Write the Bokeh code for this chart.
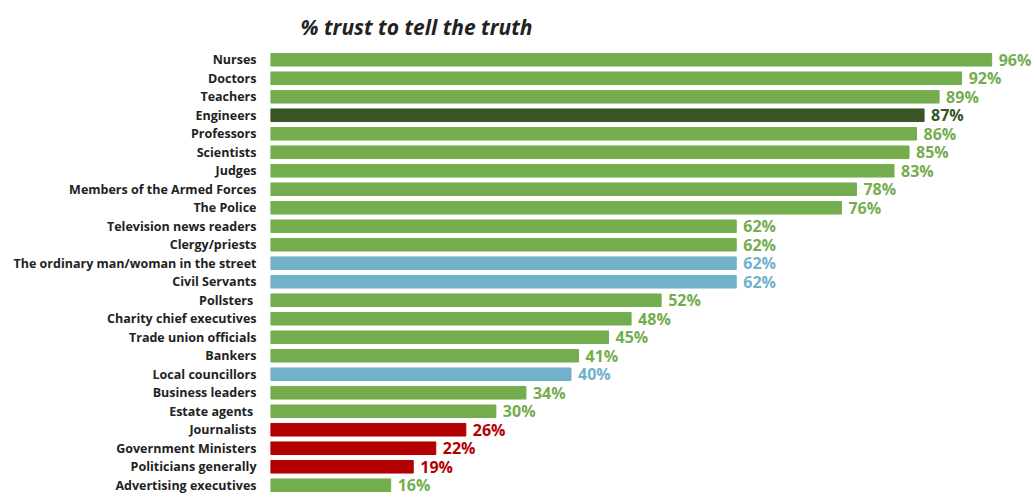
from bokeh.plotting import figure
from bokeh.models import ColumnDataSource, FactorRange, Range1d
from bokeh.core.properties import value
from bokeh.embed import file_html
from bokeh.resources import INLINE

categories = ["Nurses", "Doctors", "Teachers", "Engineers", "Professors", "Scientists",
              "Judges", "Members of the Armed Forces", "The Police", "Television news readers",
              "Clergy/priests", "The ordinary man/woman in the street", "Civil Servants",
              "Pollsters ", "Charity chief executives", "Trade union officials", "Bankers",
              "Local councillors", "Business leaders", "Estate agents ", "Journalists",
              "Government Ministers", "Politicians generally", "Advertising executives"]
values = [96, 92, 89, 87, 86, 85, 83, 78, 76, 62, 62, 62, 62, 52, 48, 45, 41, 40, 34, 30, 26, 22, 19, 16]
groups = ["green", "green", "green", "dark", "green", "green", "green", "green", "green", "green",
          "green", "blue", "blue", "green", "green", "green", "green", "blue", "green", "green",
          "red", "red", "red", "green"]
palette = {"green": "#74AD4E", "dark": "#375623", "blue": "#72B1CA", "red": "#B20000"}

colors = [palette[g] for g in groups]
labels = [f"{v}%" for v in values]
src = ColumnDataSource(dict(cat=categories, val=values, color=colors, label=labels))

p = figure(width=1034, height=494, output_backend="svg", toolbar_location=None,
           y_range=FactorRange(factors=list(reversed(categories)), range_padding=0),
           x_range=Range1d(0, 101.7),
           min_border_left=270, min_border_right=0, min_border_bottom=0, min_border_top=3)

p.hbar(y="cat", left=0, right="val", height=0.68, color="color", source=src)
p.text(x="val", y="cat", text="label", text_color="color", source=src,
       x_offset=7, text_baseline="middle", text_align="left",
       text_font=value("Open Sans"), text_font_style="bold", text_font_size="16px")

p.title.text = "% trust to tell the truth"
p.title.text_font = "Open Sans"
p.title.text_font_style = "bold italic"
p.title.text_font_size = "21px"
p.title.text_color = "#222222"
p.title.offset = 30
p.title.standoff = 20

p.xaxis.visible = False
p.yaxis.axis_line_color = None
p.yaxis.major_tick_line_color = None
p.yaxis.minor_tick_line_color = None
p.yaxis.major_label_text_font = "Open Sans"
p.yaxis.major_label_text_font_style = "bold"
p.yaxis.major_label_text_font_size = "12.5px"
p.yaxis.major_label_text_color = "#222222"
p.yaxis.major_label_standoff = 8
p.xgrid.visible = False
p.ygrid.visible = False
p.outline_line_color = None

open("out.html", "w").write(file_html(p, INLINE))
